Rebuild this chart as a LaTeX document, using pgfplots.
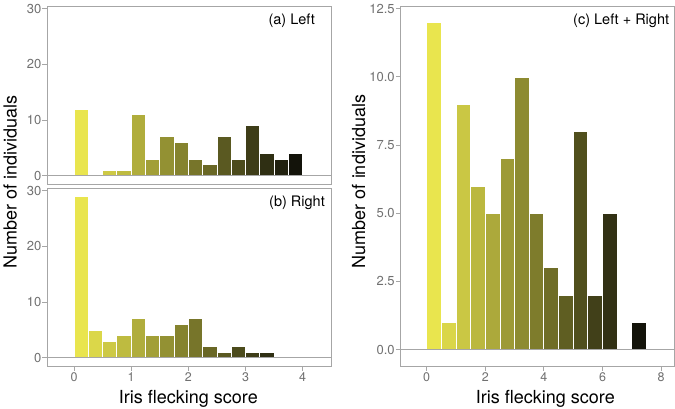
\documentclass[border=0pt]{standalone}
\usepackage{fontspec}
\setmainfont{TeX Gyre Heros}
\usepackage{pgfplots}
\pgfplotsset{compat=1.18}
\definecolor{yel}{HTML}{E9E54E}
\definecolor{blk}{HTML}{13130A}
\definecolor{framegray}{HTML}{A6A6A6}
\definecolor{ticklab}{HTML}{707070}
\newcommand{\bbar}[3]{\addplot[ybar, bar shift=0pt, fill=yel!#3!blk, draw=white, line width=0.8pt] coordinates {(#1,#2)};}
\pgfplotsset{
  panel/.style={
    scale only axis,
    axis line style={framegray, line width=0.9pt},
    tick style={framegray, line width=0.9pt},
    major tick length=4.5pt,
    tick align=outside,
    tick pos=left,
    /pgf/number format/assume math mode=true,
    yticklabel style={font=\fontsize{13}{13}\selectfont, text=ticklab, inner sep=1pt},
    xticklabel style={font=\fontsize{12.5}{12.5}\selectfont, text=ticklab, inner sep=2pt},
  }
}
\begin{document}
\begin{tikzpicture}[x=1pt,y=1pt]
\useasboundingbox (0,0) rectangle (675,408);
% (a) Left
\begin{axis}[panel, at={(47pt,224pt)}, anchor=south west, width=284pt, height=178pt,
  xmin=-0.472, xmax=4.495, ymin=-1.45, ymax=30.45,
  xtick=\empty, ytick={0,10,20,30}, bar width=0.25]
\bbar{0.125}{12}{100}
\bbar{0.625}{1}{86.7}
\bbar{0.875}{1}{80}
\bbar{1.125}{11}{73.3}
\bbar{1.375}{3}{66.7}
\bbar{1.625}{7}{60}
\bbar{1.875}{6}{53.3}
\bbar{2.125}{3}{46.7}
\bbar{2.375}{2}{40}
\bbar{2.625}{7}{33.3}
\bbar{2.875}{3}{26.7}
\bbar{3.125}{9}{20}
\bbar{3.375}{4}{13.3}
\bbar{3.625}{3}{6.7}
\bbar{3.875}{4}{0}
\draw[framegray, line width=0.9pt] (axis cs:-0.472,0) -- (axis cs:4.495,0);
\end{axis}
% (b) Right
\begin{axis}[panel, at={(47pt,42pt)}, anchor=south west, width=284pt, height=178pt,
  xmin=-0.472, xmax=4.495, ymin=-1.45, ymax=30.45,
  xtick={0,1,2,3,4}, ytick={0,10,20,30}, bar width=0.25]
\bbar{0.125}{29}{100}
\bbar{0.375}{5}{93.3}
\bbar{0.625}{3}{86.7}
\bbar{0.875}{4}{80}
\bbar{1.125}{7}{73.3}
\bbar{1.375}{4}{66.7}
\bbar{1.625}{4}{60}
\bbar{1.875}{6}{53.3}
\bbar{2.125}{7}{46.7}
\bbar{2.375}{2}{40}
\bbar{2.625}{1}{33.3}
\bbar{2.875}{2}{26.7}
\bbar{3.125}{1}{20}
\bbar{3.375}{1}{13.3}
\draw[framegray, line width=0.9pt] (axis cs:-0.472,0) -- (axis cs:4.495,0);
\end{axis}
% (c) Left + Right
\begin{axis}[panel, at={(400.3pt,42pt)}, anchor=south west, width=274pt, height=360pt,
  xmin=-0.9, xmax=8.45, ymin=-0.6, ymax=12.6,
  xtick={0,2,4,6,8}, ytick={0,2.5,5,7.5,10,12.5},
  yticklabels={0.0,2.5,5.0,7.5,10.0,12.5}, bar width=0.5]
\bbar{0.25}{12}{100}
\bbar{0.75}{1}{92.9}
\bbar{1.25}{9}{85.7}
\bbar{1.75}{6}{78.6}
\bbar{2.25}{5}{71.4}
\bbar{2.75}{7}{64.3}
\bbar{3.25}{10}{57.1}
\bbar{3.75}{5}{50}
\bbar{4.25}{3}{42.9}
\bbar{4.75}{2}{35.7}
\bbar{5.25}{8}{28.6}
\bbar{5.75}{2}{21.4}
\bbar{6.25}{5}{14.3}
\bbar{7.25}{1}{0}
\draw[framegray, line width=0.9pt] (axis cs:-0.9,0) -- (axis cs:8.45,0);
\end{axis}
% labels
\node[rotate=90, anchor=base, inner sep=0pt] at (16.5,226) {\fontsize{18}{18}\selectfont Number of individuals};
\node[rotate=90, anchor=base, inner sep=0pt] at (365,226.5) {\fontsize{18}{18}\selectfont Number of individuals};
\node[anchor=base, inner sep=0pt] at (188.3,4.7) {\fontsize{18}{18}\selectfont Iris flecking score};
\node[anchor=base, inner sep=0pt] at (545.3,4.7) {\fontsize{18}{18}\selectfont Iris flecking score};
\node[anchor=base east, inner sep=0pt] at (315,383) {\fontsize{14.5}{14.5}\selectfont (a) Left};
\node[anchor=base east, inner sep=0pt] at (325,201.3) {\fontsize{14.5}{14.5}\selectfont (b) Right};
\node[anchor=base east, inner sep=0pt] at (669.3,383) {\fontsize{14.5}{14.5}\selectfont (c) Left + Right};
\end{tikzpicture}
\end{document}
